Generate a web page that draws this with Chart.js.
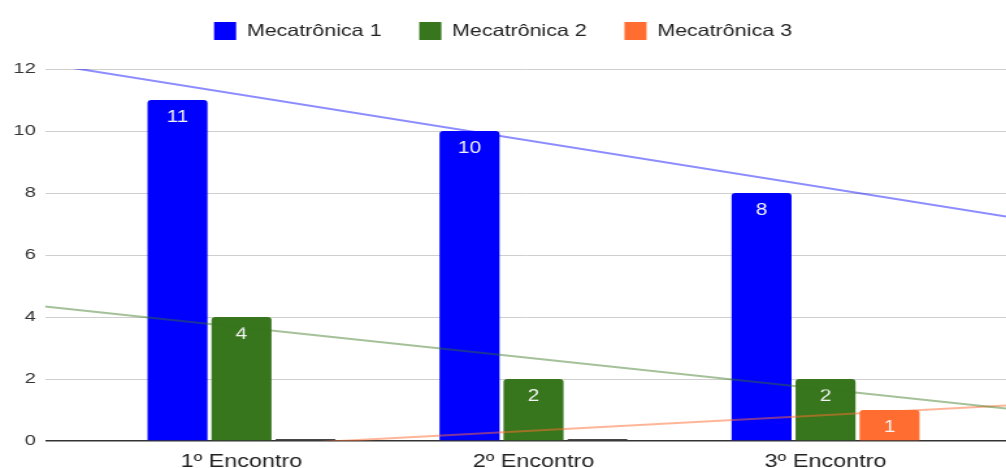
<!DOCTYPE html>
<html>
<head>
<meta charset="utf-8">
<script src="https://cdn.jsdelivr.net/npm/chart.js@4"></script>
<style>
  html, body { margin: 0; padding: 0; background: #fff; }
  /* the reference is a horizontally stretched screenshot, so the canvas is drawn narrower and stretched */
  #chart { width: 1006px !important; height: 468px !important; display: block; }
</style>
</head>
<body>
<canvas id="chart" width="774" height="468"></canvas>
<script>
const categories = ['1º Encontro', '2º Encontro', '3º Encontro'];
const seriesNames = ['Mecatrônica 1', 'Mecatrônica 2', 'Mecatrônica 3'];
const mecatronica1 = [11, 10, 8];
const mecatronica2 = [4, 2, 2];
const mecatronica3 = [0, 0, 1];
const yTicks = [0, 2, 4, 6, 8, 10, 12];

const barColors = ['#0000ff', '#38761d', '#ff6d31'];
const trendColors = ['rgba(0,0,255,0.45)', 'rgba(56,118,29,0.45)', 'rgba(255,109,49,0.5)'];
const FONT = '"Liberation Sans", Arial, sans-serif';

// x range of the plot (in category index units), so the trend lines run edge to edge
const X_MIN = -0.673;
const X_MAX = 2.618;

// least squares trend line, evaluated at the two ends of the plot
function trendLine(values) {
    const n = values.length;
    const mx = (n - 1) / 2;
    const my = values.reduce((s, v) => s + v, 0) / n;
    let num = 0, den = 0;
    values.forEach((v, i) => { num += (i - mx) * (v - my); den += (i - mx) * (i - mx); });
    const slope = num / den;
    return [X_MIN, X_MAX].map(x => ({ x: x, y: my + slope * (x - mx) }));
}

const allSeries = [mecatronica1, mecatronica2, mecatronica3];

const barSets = allSeries.map((values, k) => ({
    type: 'bar',
    label: seriesNames[k],
    data: values.map((v, i) => ({ x: i, y: v })),
    // zero values show as a thin dark stub
    backgroundColor: values.map(v => v === 0 ? '#474747' : barColors[k]),
    borderRadius: 3,
    minBarLength: 2,
    categoryPercentage: 0.6575,
    barPercentage: 0.9375,
    order: 1
}));

const trendSets = allSeries.map((values, k) => ({
    type: 'line',
    label: 'trend ' + seriesNames[k],
    data: trendLine(values),
    borderColor: trendColors[k],
    borderWidth: 2,
    pointRadius: 0,
    fill: false,
    clip: 0,
    order: -1
}));

// white value labels inside the top of each bar
const barValueLabels = {
    id: 'barValueLabels',
    afterDatasetDraw(chart, args) {
        const ds = chart.data.datasets[args.index];
        if (ds.type !== 'bar') return;
        const ctx = chart.ctx;
        ctx.save();
        ctx.font = '16px ' + FONT;
        ctx.fillStyle = '#f4f4f4';
        ctx.textAlign = 'center';
        ctx.textBaseline = 'middle';
        args.meta.data.forEach((bar, i) => {
            const v = ds.data[i].y;
            if (!v) return;
            ctx.fillText(String(v), bar.x, bar.y + 18);
        });
        ctx.restore();
    }
};

new Chart(document.getElementById('chart'), {
    type: 'bar',
    data: { datasets: [...barSets, ...trendSets] },
    options: {
        responsive: false,
        devicePixelRatio: 1,
        animation: false,
        layout: { padding: { left: 0, right: 0, top: -7, bottom: 0 } },
        plugins: {
            legend: {
                position: 'top',
                labels: {
                    generateLabels: chart => Chart.defaults.plugins.legend.labels.generateLabels(chart)
                        .filter(item => item.datasetIndex < 3)
                        .map(item => Object.assign(item, {
                            fillStyle: barColors[item.datasetIndex],
                            strokeStyle: barColors[item.datasetIndex],
                            lineWidth: 0
                        })),
                    boxWidth: 17,
                    boxHeight: 18,
                    padding: 29,
                    color: '#222',
                    font: { size: 16.5, family: FONT }
                }
            },
            // empty spacer under the legend
            title: {
                display: true,
                text: '',
                weight: 500,
                padding: 0,
                font: { size: 19, lineHeight: 1, family: FONT }
            },
            tooltip: { enabled: false }
        },
        scales: {
            x: {
                type: 'linear',
                min: X_MIN,
                max: X_MAX,
                offset: false,
                grid: { display: false, offset: false },
                border: { display: false },
                afterBuildTicks: axis => { axis.ticks = categories.map((c, i) => ({ value: i })); },
                afterFit: axis => { axis.height = 27; },
                ticks: {
                    callback: v => categories[v],
                    autoSkip: false,
                    maxRotation: 0,
                    padding: 2,
                    color: '#222',
                    font: { size: 18, family: FONT }
                }
            },
            y: {
                min: 0,
                max: 12,
                afterBuildTicks: axis => { axis.ticks = yTicks.map(v => ({ value: v })); },
                afterFit: axis => { axis.width = 34.6; },
                grid: {
                    drawTicks: false,
                    color: ctx => ctx.tick && ctx.tick.value === 0 ? '#333' : '#cfcfcf',
                    lineWidth: ctx => ctx.tick && ctx.tick.value === 0 ? 1.5 : 1
                },
                border: { display: false },
                ticks: {
                    padding: 7,
                    color: '#333',
                    font: { size: 15.5, family: FONT }
                }
            }
        }
    },
    plugins: [barValueLabels]
});
</script>
</body>
</html>
